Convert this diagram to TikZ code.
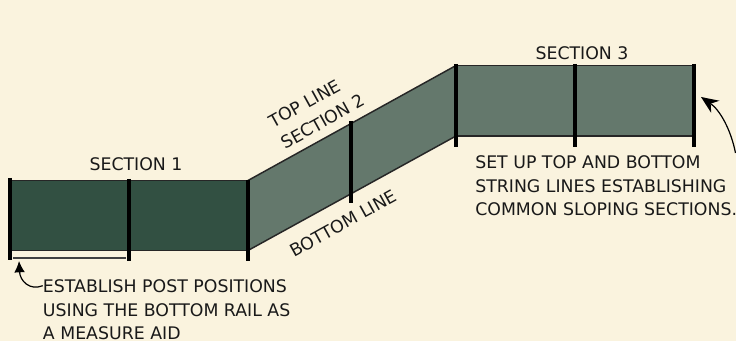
\documentclass[tikz,border=0pt]{standalone}
\usepackage{fontspec}
\setmainfont{DejaVu Sans}
\usetikzlibrary{arrows.meta}
\tikzset{
  panel/.style={draw=black!85,line width=1.1pt},
  fencepost/.style={draw=black,line width=2.4pt},
  lbl/.style={inner sep=0pt,anchor=base,text=black!90,font=\fontsize{13pt}{13pt}\selectfont},
  lbll/.style={lbl,anchor=base west},
  pointer/.style={draw=black,line width=0.9pt},
}
\begin{document}
\begin{tikzpicture}[x=0.75pt,y=-0.75pt]
\useasboundingbox[fill={rgb,255:red,250;green,243;blue,222}] (0,0) rectangle (736,341);
\definecolor{darkgreen}{RGB}{50,80,66}
\definecolor{midgreen}{RGB}{100,120,108}
% panels
\filldraw[panel,fill=darkgreen] (10,180.5) rectangle (248,250.5);
\filldraw[panel,fill=midgreen] (248,180.5) -- (456,65.5) -- (456,136) -- (248,250.5) -- cycle;
\filldraw[panel,fill=midgreen] (456,65.5) rectangle (694,136);
% posts
\draw[fencepost] (10,178) -- (10,260);
\draw[fencepost] (129,179) -- (129,261);
\draw[fencepost] (248,180) -- (248,261);
\draw[fencepost] (351,121) -- (351,203);
\draw[fencepost] (456,64) -- (456,147);
\draw[fencepost] (575,64) -- (575,147);
\draw[fencepost] (694,64) -- (694,147);
% measuring rail
\draw[draw=black!75,line width=1.1pt] (13,258) -- (126,258);
% labels
\node[lbl] (s1) at (136,170.5) {SECTION 1};
\node[lbl] (s3) at (582,59.5) {SECTION 3};
\node[lbl,rotate=29] (top) at (307.5,109) {TOP LINE};
\node[lbl,rotate=29] (s2) at (326,127) {SECTION 2};
\node[lbl,rotate=29] (bot) at (346,229) {BOTTOM LINE};
\node[lbll] (a1) at (42.7,293) {ESTABLISH POST POSITIONS};
\node[lbll] (a2) at (42.7,316.5) {USING THE BOTTOM RAIL AS};
\node[lbll] (a3) at (42.7,339.5) {A MEASURE AID};
\node[lbll] (b1) at (475,169) {SET UP TOP AND BOTTOM};
\node[lbll] (b2) at (475,192.5) {STRING LINES ESTABLISHING};
\node[lbll] (b3) at (475,216) {COMMON SLOPING SECTIONS.};
% pointers
\coordinate (t1) at (19,261);
\coordinate (t2) at (701,97);
\coordinate (f2) at (735.5,153);
\draw[pointer,-{Latex[length=8.5pt,width=8pt]}] (a1.west) ++(0,-1) .. controls (30,291) and (20,281) .. (t1);
\draw[pointer,-{Stealth[length=13pt,width=11pt]}] (f2) .. controls (731,130) and (720,110) .. (t2);
\end{tikzpicture}
\end{document}
